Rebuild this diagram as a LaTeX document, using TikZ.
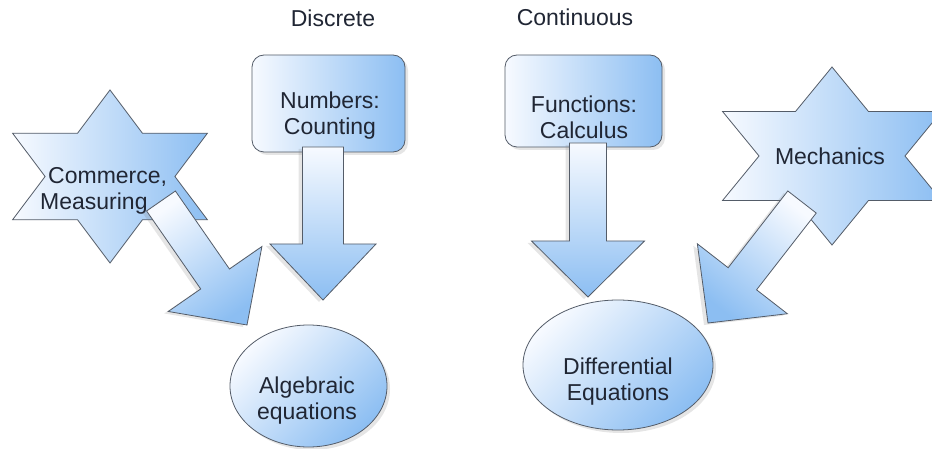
\documentclass[tikz,border=0pt]{standalone}
\usepackage{fontspec}
\setmainfont{Liberation Sans}
\usetikzlibrary{shapes.geometric, shadows, calc, positioning}

\definecolor{shapeblue}{RGB}{140,190,242}
\definecolor{shapewhite}{RGB}{247,250,255}
\definecolor{edgegray}{RGB}{84,92,104}
\definecolor{ink}{RGB}{32,38,52}

% block arrow from tail to tip: [opts]{tail}{tip}{half shaft}{half head}
\newcommand{\fatarrow}[5][]{%
  \draw[fatarrow,#1] ($(#2)!#4!90:(#3)$) -- ($(#3)!56pt!(#2)!#4!90:(#3)$)
    -- ($(#3)!56pt!(#2)!#5!90:(#3)$) -- (#3)
    -- ($(#3)!56pt!(#2)!#5!-90:(#3)$) -- ($(#3)!56pt!(#2)!#4!-90:(#3)$)
    -- ($(#2)!#4!-90:(#3)$) -- cycle;}

% six pointed star round a centre: {centre}{y radius}
\newcommand{\hexstar}[2]{%
  (90:#2) -- (60:#2*0.5774) -- (30:#2) -- (0:#2*0.5774) -- (-30:#2)
  -- (-60:#2*0.5774) -- (-90:#2) -- (-120:#2*0.5774) -- (-150:#2)
  -- (180:#2*0.5774) -- (150:#2) -- (120:#2*0.5774) -- cycle}

\begin{document}
\begin{tikzpicture}[x=1pt, y=-1pt,
    txt/.style={font=\fontsize{23}{26}\selectfont, text=ink, align=center, inner sep=0pt},
    roundbox/.style={rectangle, draw=edgegray, thick, rounded corners=12pt, left color=shapewhite, right color=shapeblue,
      drop shadow={opacity=0.2, shadow xshift=3pt, shadow yshift=-3pt}},
    oval/.style={ellipse, draw=edgegray, thick, top color=shapewhite, bottom color=shapeblue, shading angle=45,
      drop shadow={opacity=0.2, shadow xshift=3pt, shadow yshift=-3pt}},
    starfill/.style={draw=edgegray, thick, left color=shapewhite, right color=shapeblue},
    fatarrow/.style={draw=edgegray, thick, line join=miter, top color=shapewhite, bottom color=shapeblue,
      drop shadow={opacity=0.2, shadow xshift=-4pt, shadow yshift=-2pt}}]
    \useasboundingbox[fill=white] (0,0) rectangle (932,449);

    % headings
    \node [txt] (disc) at (333,18) {Discrete};
    \node [txt] (cont) at (575,17) {Continuous};

    % stars
    \coordinate (comc) at (110,176.5);
    \coordinate (mecc) at (832,156);
    \draw [starfill, shift={(comc)}, xscale=1.30] \hexstar{comc}{86.5};
    \draw [starfill, shift={(mecc)}, xscale=1.42] \hexstar{mecc}{89};
    \node [txt, align=left, anchor=west] (com) at (40,191) {\hspace*{8pt}Commerce,\\Measuring};
    \node [txt] (mec) at (830,156) {Mechanics};

    % boxes
    \node [roundbox, minimum width=153, minimum height=97] (num) at (328.5,103.5) {};
    \node [roundbox, minimum width=157, minimum height=92] (fun) at (583.5,101) {};
    \node [txt] (numtext) at (330,116) {Numbers:\\Counting};
    \node [txt] (funtext) at (584,117) {Functions:\\Calculus};

    % block arrows
    \coordinate (comtail) at (161,201);
    \coordinate (comtip) at (247,325);
    \coordinate (numtail) at (323,147);
    \coordinate (numtip) at (323,300);
    \coordinate (funtail) at (588,143);
    \coordinate (funtip) at (588,297);
    \coordinate (mectail) at (802,202);
    \coordinate (mectip) at (708,323);
    \fatarrow[shading angle=35]{comtail}{comtip}{17.5pt}{57pt}
    \fatarrow{numtail}{numtip}{20.5pt}{53pt}
    \fatarrow{funtail}{funtip}{18.5pt}{56.5pt}
    \fatarrow[shading angle=-38]{mectail}{mectip}{18pt}{57pt}

    % results
    \node [oval, minimum width=157, minimum height=122] (alg) at (308.5,386) {};
    \node [oval, minimum width=190, minimum height=130] (dif) at (618,365) {};
    \node [txt] (algtext) at (307,401) {Algebraic\\equations};
    \node [txt] (diftext) at (618,382) {Differential\\Equations};
\end{tikzpicture}
\end{document}
